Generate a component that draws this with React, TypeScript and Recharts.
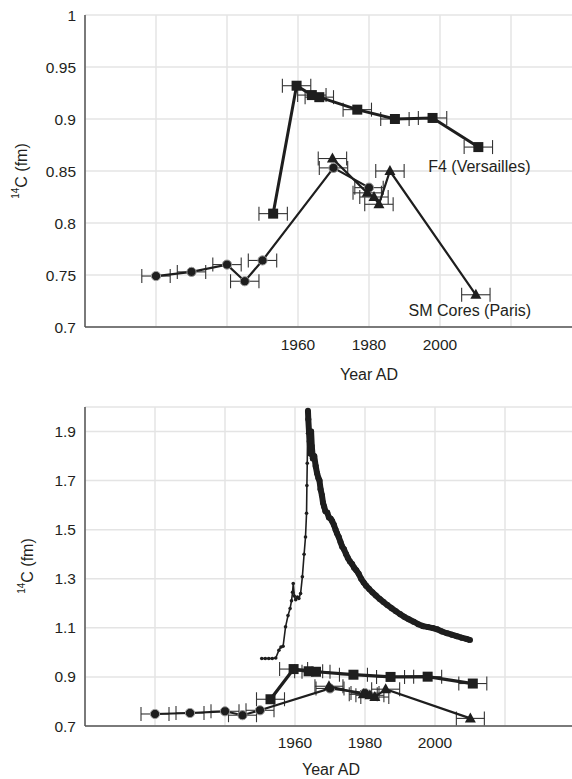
import React from 'react';
import { ScatterChart, Scatter, XAxis, YAxis, CartesianGrid, ErrorBar, ReferenceDot } from 'recharts';

// F4 (Versailles) tree rings
const f4Years = [1953.0, 1959.6, 1963.9, 1966.0, 1976.7, 1987.3, 1997.9, 2010.8];
const f4Fm = [0.809, 0.932, 0.923, 0.921, 0.909, 0.9, 0.901, 0.873];
const f4Err = [4, 4, 4, 4, 4, 4, 4, 4];

// SM Cores (Paris) - circles
const smCircleYears = [1920, 1930, 1940, 1945, 1950, 1970, 1980];
const smCircleFm = [0.749, 0.753, 0.76, 0.744, 0.764, 0.853, 0.834];
const smCircleErr = [4, 4, 4, 4, 4, 4, 4];

// SM Cores (Paris) - triangles
const smTriYears = [1969.7, 1979.5, 1981.4, 1982.8, 1985.9, 2010.1];
const smTriFm = [0.862, 0.829, 0.825, 0.818, 0.85, 0.731];
const smTriErr = [4, 4, 4, 4, 4, 4];

// atmospheric bomb curve (bottom panel)
const bombRiseYears = [1950.5, 1951.5, 1952.5, 1953.5, 1954.5, 1955.4, 1956.0, 1956.6, 1957.3, 1958.0, 1958.6, 1959.0, 1959.3, 1959.5, 1959.8, 1960.2, 1960.7, 1961.1, 1961.6, 1962.1, 1962.6, 1963.0, 1963.3, 1963.4, 1963.5, 1963.6, 1963.7];
const bombRiseFm = [0.975, 0.975, 0.975, 0.975, 0.977, 1.009, 1.022, 1.025, 1.104, 1.15, 1.179, 1.21, 1.245, 1.281, 1.23, 1.215, 1.225, 1.22, 1.24, 1.308, 1.4, 1.47, 1.567, 1.68, 1.771, 1.893, 1.985];
const bombDecayYears = [1963.7, 1963.8, 1964.0, 1964.2, 1964.4, 1964.6, 1964.8, 1965.1, 1965.5, 1965.9, 1966.3, 1966.7, 1967.0, 1967.3, 1967.7, 1968.0, 1968.3, 1968.7, 1969.2, 1969.7, 1970.2, 1970.6, 1971.1, 1971.6, 1972.0, 1972.5, 1973.0, 1973.5, 1974.0, 1974.6, 1975.1, 1975.7, 1976.3, 1976.9, 1977.5, 1978.2, 1978.9, 1979.6, 1980.3, 1981.2, 1982.1, 1983.1, 1984.2, 1985.3, 1986.4, 1987.6, 1988.8, 1990.0, 1991.2, 1992.5, 1993.9, 1995.2, 1996.6, 1998.0, 1999.4, 2000.6, 2002.0, 2003.4, 2004.8, 2006.2, 2007.6, 2009.0, 2010.0];
const bombDecayFm = [1.985, 1.95, 1.9, 1.86, 1.81, 1.9, 1.84, 1.79, 1.8, 1.76, 1.73, 1.71, 1.7, 1.665, 1.64, 1.61, 1.595, 1.575, 1.57, 1.55, 1.545, 1.535, 1.52, 1.5, 1.485, 1.47, 1.45, 1.43, 1.42, 1.4, 1.385, 1.37, 1.36, 1.345, 1.335, 1.32, 1.3, 1.285, 1.272, 1.258, 1.245, 1.232, 1.218, 1.205, 1.193, 1.18, 1.168, 1.156, 1.145, 1.135, 1.125, 1.115, 1.107, 1.103, 1.099, 1.094, 1.085, 1.078, 1.072, 1.066, 1.06, 1.055, 1.05];

const yearTicks = [1900, 1920, 1940, 1960, 1980, 2000, 2020, 2040];
const yearLabels = [1960, 1980, 2000];
const topFmTicks = [0.7, 0.75, 0.8, 0.85, 0.9, 0.95, 1];
const bottomFmTicks = [0.7, 0.9, 1.1, 1.3, 1.5, 1.7, 1.9];

const toPoints = (years: number[], fm: number[], err?: number[]) =>
  years.map((year, i) => ({ year, fm: fm[i], err: err ? err[i] : 0 }));

const f4Data = toPoints(f4Years, f4Fm, f4Err);
const smCircleData = toPoints(smCircleYears, smCircleFm, smCircleErr);
const smTriData = toPoints(smTriYears, smTriFm, smTriErr);
const bombRiseData = toPoints(bombRiseYears, bombRiseFm);
const bombDecayData = toPoints(bombDecayYears, bombDecayFm);

const INK = '#1e1e1e';
const TEXT = '#231f20';
const FONT = '"Liberation Sans", Arial, Helvetica, sans-serif';
const GRID = '#e4e4e4';

const SquareMark = (p: any) => <rect x={p.cx - 5} y={p.cy - 5} width={10} height={10} fill={INK} />;
const CircleMark = (p: any) => (
  <circle cx={p.cx} cy={p.cy} r={4.6} fill={INK} stroke="#9a9a9a" strokeWidth={1} />
);
const TriangleMark = (p: any) => (
  <polygon
    points={`${p.cx},${p.cy - 6} ${p.cx + 5.5},${p.cy + 4} ${p.cx - 5.5},${p.cy + 4}`}
    fill={INK}
  />
);
const SmallDot = (p: any) => <circle cx={p.cx} cy={p.cy} r={1.8} fill={INK} />;
const MidDot = (p: any) => <circle cx={p.cx} cy={p.cy} r={3} fill={INK} />;

const yearFmt = (v: number) => (yearLabels.includes(v) ? String(v) : '');
const tickStyle = { fontSize: 15.5, fill: TEXT, fontFamily: FONT };
const axisStyle = { stroke: '#555', strokeWidth: 1.5 };

// px/py are in the chart's own svg coordinates
const XTitle = ({ px, py }: any) => (
  <text x={px} y={py} textAnchor="middle" fontSize={16} fill={TEXT} fontFamily={FONT}>
    Year AD
  </text>
);

const YTitle = ({ px, py }: any) => (
  <text
    x={px}
    y={py}
    transform={`rotate(-90, ${px}, ${py})`}
    textAnchor="middle"
    dominantBaseline="central"
    fontSize={16}
    fill={TEXT}
    fontFamily={FONT}
  >
    <tspan fontSize={10} dy={-6}>14</tspan>
    <tspan dy={6}>C (fm)</tspan>
  </text>
);

const NoteLabel = ({ viewBox, text, ox, oy }: any) => {
  const x = viewBox.x + viewBox.width / 2 + ox;
  const y = viewBox.y + viewBox.height / 2 + oy;
  return (
    <text x={x} y={y} textAnchor="middle" dominantBaseline="central" fontSize={16} fill={TEXT} fontFamily={FONT}>
      {text}
    </text>
  );
};

const errBar = <ErrorBar dataKey="err" direction="x" width={7} stroke="#333" strokeWidth={1.1} />;

export default function App() {
  return (
    <div
      style={{
        position: 'absolute',
        left: 0,
        top: 0,
        width: 572,
        height: 779,
        overflow: 'hidden',
        background: '#fff',
      }}
    >
      <div style={{ position: 'absolute', left: 0, top: 0 }}>
        <ScatterChart width={582} height={390} margin={{ top: 15, right: 0, bottom: 0, left: 0 }}>
          <CartesianGrid stroke={GRID} strokeWidth={1.5} />
          <XAxis
            type="number"
            dataKey="year"
            domain={[1900, 2040]}
            ticks={yearTicks}
            interval={0}
            tickFormatter={yearFmt}
            tickLine={false}
            axisLine={axisStyle}
            tick={tickStyle}
            tickMargin={6}
            height={63}
            label={<XTitle px={369} py={380} />}
          />
          <YAxis
            type="number"
            dataKey="fm"
            domain={[0.7, 1]}
            ticks={topFmTicks}
            interval={0}
            tickLine={false}
            axisLine={axisStyle}
            tick={tickStyle}
            tickMargin={3}
            width={85}
            label={<YTitle px={21} py={171} />}
          />
          <Scatter
            data={f4Data}
            shape={SquareMark}
            line={{ stroke: INK, strokeWidth: 3 }}
            isAnimationActive={false}
          >
            {errBar}
          </Scatter>
          <Scatter
            data={smCircleData}
            shape={CircleMark}
            line={{ stroke: INK, strokeWidth: 2.2 }}
            isAnimationActive={false}
          >
            {errBar}
          </Scatter>
          <Scatter
            data={smTriData}
            shape={TriangleMark}
            line={{ stroke: INK, strokeWidth: 2.2 }}
            isAnimationActive={false}
          >
            {errBar}
          </Scatter>
          <ReferenceDot
            x={f4Years[f4Years.length - 1]}
            y={f4Fm[f4Fm.length - 1]}
            r={1}
            fill="none"
            stroke="none"
            label={<NoteLabel text="F4 (Versailles)" ox={1} oy={19} />}
          />
          <ReferenceDot
            x={smTriYears[smTriYears.length - 1]}
            y={smTriFm[smTriFm.length - 1]}
            r={1}
            fill="none"
            stroke="none"
            label={<NoteLabel text="SM Cores (Paris)" ox={-6} oy={16} />}
          />
        </ScatterChart>
      </div>

      <div style={{ position: 'absolute', left: 0, top: 390 }}>
        <ScatterChart width={575} height={396} margin={{ top: 17, right: 0, bottom: 0, left: 0 }}>
          <CartesianGrid stroke={GRID} strokeWidth={1.5} />
          <XAxis
            type="number"
            dataKey="year"
            domain={[1900, 2040]}
            ticks={yearTicks}
            interval={0}
            tickFormatter={yearFmt}
            tickLine={false}
            axisLine={axisStyle}
            tick={tickStyle}
            tickMargin={5}
            height={60}
            label={<XTitle px={331} py={385} />}
          />
          <YAxis
            type="number"
            dataKey="fm"
            domain={[0.7, 2.0]}
            ticks={bottomFmTicks}
            interval={0}
            tickLine={false}
            axisLine={axisStyle}
            tick={tickStyle}
            tickMargin={3}
            width={85}
            label={<YTitle px={27} py={176} />}
          />
          <Scatter
            data={bombRiseData}
            shape={SmallDot}
            line={{ stroke: INK, strokeWidth: 1.6 }}
            isAnimationActive={false}
          />
          <Scatter
            data={bombDecayData}
            shape={MidDot}
            line={{ stroke: INK, strokeWidth: 6, strokeLinejoin: 'round' }}
            isAnimationActive={false}
          />
          <Scatter
            data={f4Data}
            shape={SquareMark}
            line={{ stroke: INK, strokeWidth: 3.2 }}
            isAnimationActive={false}
          >
            {errBar}
          </Scatter>
          <Scatter
            data={smCircleData}
            shape={CircleMark}
            line={{ stroke: INK, strokeWidth: 2.2 }}
            isAnimationActive={false}
          >
            {errBar}
          </Scatter>
          <Scatter
            data={smTriData}
            shape={TriangleMark}
            line={{ stroke: INK, strokeWidth: 2.2 }}
            isAnimationActive={false}
          >
            {errBar}
          </Scatter>
        </ScatterChart>
      </div>
    </div>
  );
}
